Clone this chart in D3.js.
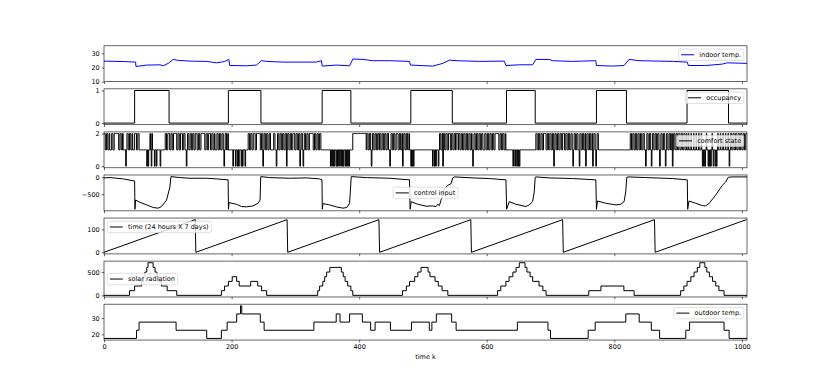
<!DOCTYPE html>
<html>
<head>
<meta charset="utf-8">
<script src="https://cdn.jsdelivr.net/npm/d3@7"></script>
<style>
  body { margin: 0; background: #fff; }
  text { font-family: "DejaVu Sans", sans-serif; }
</style>
</head>
<body>
<svg id="chart" width="830" height="382"></svg>
<script>
// ---- data (k = time step, 10 min each) ----
const indoorTemp = [[0,24.5],[30,24.2],[49.6,23.8],[50.1,20.7],[66.8,21.7],[87.6,21.9],[92.9,21.2],[100.7,22.9],[108.5,25.7],[116.3,25.0],[134.6,24.5],[160.7,24.3],[176.3,23.3],[184.2,23.8],[189.4,24.3],[195.6,25.7],[197.2,21.4],[223.3,21.2],[238.9,21.7],[246.8,24.8],[254.6,24.3],[280.7,23.8],[332.8,23.8],[340.7,24.8],[342.2,21.0],[364.1,21.7],[385,21.2],[390.2,26.0],[405.9,25.7],[421.5,24.8],[447.6,24.8],[478.9,24.3],[480.5,21.7],[505,21.2],[515.4,21.0],[531.1,22.9],[541.5,25.2],[551.9,24.8],[588.4,24.3],[627.5,24.5],[630.1,21.4],[651,21.9],[671.9,21.9],[677.1,25.7],[698,25.7],[703.2,24.8],[734.5,24.3],[771,24.8],[772,21.4],[797,21.0],[815.3,21.4],[823.1,25.7],[838.8,24.8],[891,24.3],[914.4,23.8],[916,21.4],[943.1,21.4],[969.2,22.4],[977,23.3],[1008,22.9]];

const occupancy = [[0,0],[48,1],[102,0],[195,1],[246,0],[342,1],[387,0],[481,1],[546,0],[631,1],[676,0],[772,1],[819,0],[914,1],[979,0],[1008,0]];

// comfort state, one digit per step, one string per day
const comfortDays = [
  ["221122112","111","2211222","2222","11221121","111","0","12211221121","11","22211221","11111111111","01011210211101101111101111","111","221122211221122","222","112211222112211","0","12211221122112"],
  ["2211221122","2222","1122112221122112","111","22112211221","0","12211211","11111","0","111","0","11","0","1","0","111","0","1","0","111","0","1111","221122112221122","2222","1122","0","1221122112211","111","2211","0","122112211221122","0","1"],
  ["2211221122211221122","0","1221","0","12211221122","2222","11221122112211","1111111111111","0101010110101011010101101010101","1111","222222222222222222222","12211221","0","122112211221"],
  ["2211221122112211","0","1221122112221122112","0","12211221121","1","0","1","0","1","0","11111111111111111111111111111","0","11","0","1","0","111","0","122112","0","22112211222112211221","222","122112211221122112211"],
  ["21","0","122112211221122","111","221122112211221122","2222","11221122112","11111111111","0","11","0","11","0","1","0","1","0","1111111111111111111111111","2211221122112","222","112211221122","0","12211221122112"],
  ["221122112211221","0","122112211","0","221122112","0","1221122112","0","1221","0","122111","11111111111111111111111111111111111111111111111","221122112211221122112211","0","12211221","0","12211"],
  ["2211221","0","12211221","0","1221122112","0","1221122112211221122112","112111211121112111211121","01010121101010121011010121","1121112111211121","0","122112211221122112211221122"]
];

const controlInput = [[0,-19],[9.4,-10],[30.3,-48],[45.9,-106],[48,-106],[48.5,-945],[49.6,-673],[56.3,-740],[66.8,-817],[77.2,-894],[85,-913],[90.3,-865],[98.1,-673],[103.3,-288],[104.9,19],[119,-10],[134.6,-29],[160.7,-29],[176.3,-48],[194.6,-77],[195.1,-945],[196.1,-750],[207.6,-798],[215.5,-865],[223.3,-875],[233.7,-846],[241.5,-769],[244.7,-673],[245.7,19],[259.8,-10],[291.1,-29],[317.2,-19],[338,-48],[341.7,-77],[342.2,-945],[343.3,-779],[353.7,-817],[364.1,-875],[374.6,-913],[380.8,-894],[385,-769],[387.6,19],[411.1,-10],[447.6,-29],[478.9,-77],[479.9,-945],[481.5,-721],[491.9,-798],[505,-856],[515.4,-846],[520.6,-865],[523.2,-798],[525.8,-837],[528.4,-673],[533.6,-337],[538.8,-240],[544,-192],[546.7,-19],[549.3,10],[578,-19],[604,-38],[630.1,-77],[631.2,-945],[635.3,-721],[645.8,-798],[661.4,-865],[666.6,-817],[671.9,-721],[674.5,-433],[676,0],[677.1,10],[698,-19],[734.5,-38],[771,-77],[772,-945],[773.6,-702],[786.6,-769],[802.3,-817],[810.1,-798],[815.3,-721],[817.9,-433],[819.5,0],[823.1,10],[849.2,-10],[891,-38],[914.4,-77],[915,-945],[917,-702],[927.5,-769],[937.9,-837],[943.1,-846],[948.3,-779],[958.8,-529],[969.2,-240],[974.4,-144],[978.6,0],[984.9,10],[1008,10]];

const timeOfDay = [[0,0],[143,143],[144,0],[287,143],[288,0],[431,143],[432,0],[575,143],[576,0],[719,143],[720,0],[863,143],[864,0],[1007,143]];

const solar = [[0,0],[40,100],[48,200],[59,300],[62,400],[64,500],[67,600],[69,700],[77,600],[80,500],[83,400],[86,300],[90,200],[99,100],[114,0],
  [184,100],[189,200],[195,300],[201,400],[208,300],[212,200],[230,300],[241,200],[247,100],[255,0],
  [335,100],[338,200],[343,300],[346,400],[349,500],[354,600],[372,500],[375,400],[378,300],[382,200],[387,100],[390,0],
  [468,100],[474,200],[479,300],[487,400],[492,500],[497,600],[508,500],[511,400],[519,300],[524,200],[530,100],[539,0],
  [617,100],[622,200],[630,300],[635,400],[641,500],[646,600],[651,700],[660,600],[663,500],[668,400],[672,300],[682,200],[688,100],[693,0],
  [760,100],[779,200],[815,100],[831,0],
  [904,100],[909,200],[914,300],[920,400],[925,500],[930,600],[934,700],[942,600],[945,500],[949,400],[954,300],[959,200],[964,100],[972,0],[1008,0]];

const outdoorTemp = [[0,17.5],[51,22.5],[55,27.5],[113,22.5],[161,17.5],[184,22.5],[193,27.5],[208,32.5],[214,37.5],[216,32.5],[245,27.5],[251,22.5],[329,27.5],[364,32.5],[370,27.5],[385,32.5],[405,27.5],[418,22.5],[425,27.5],[449,22.5],[482,27.5],[510,22.5],[514,27.5],[521,32.5],[545,27.5],[552,22.5],[648,27.5],[696,22.5],[700,17.5],[759,22.5],[770,27.5],[818,32.5],[839,27.5],[858,22.5],[871,17.5],[912,22.5],[918,27.5],[972,22.5],[980,17.5],[1008,17.5]];

const labels = ['indoor temp.', 'occupancy', 'comfort state', 'control input', 'time (24 hours X 7 days)', 'solar radiation', 'outdoor temp.'];
const yTicks = [[10,20,30],[0,1],[0,2],[0,-500],[0,100],[0,500],[20,30]];
const xTicks = [0,200,400,600,800,1000];

// ---- layout ----
const $svg = d3.select('#chart');
const MARGIN = { left: 104, right: 747, top: 45.8 };
const AX_W = MARGIN.right - MARGIN.left;
const AX_H = 35.88, AX_GAP = 7.18;
const FS = 6.5;

const comfort = comfortDays.map(d => d.join('')).join('').split('').map((c, i) => [i, +c]);
comfort.push([1008, comfort[comfort.length - 1][1]]);

const panels = [
  { data: indoorTemp, color: '#0000ff', curve: d3.curveLinear, loc: 'upper right', domain: [10, 35.3] },
  { data: occupancy, color: '#000', curve: d3.curveStepAfter, loc: 'upper right' },
  { data: comfort, color: '#000', curve: d3.curveStepAfter, loc: 'upper right' },
  { data: controlInput, color: '#000', curve: d3.curveLinear, loc: 'center' },
  { data: timeOfDay, color: '#000', curve: d3.curveLinear, loc: 'upper left' },
  { data: solar, color: '#000', curve: d3.curveStepAfter, loc: 'center left' },
  { data: outdoorTemp, color: '#000', curve: d3.curveStepAfter, loc: 'upper right' }
];

const x = d3.scaleLinear().domain([0, 1008]).range([0, AX_W]);

function padded(ext) {
  const r = ext[1] - ext[0];
  return [ext[0] - 0.05 * r, ext[1] + 0.05 * r];
}

function legend(g, label, color, loc) {
  const pad = 0.5 * FS, bp = 0.4 * FS, hl = 2 * FS, tp = 0.8 * FS;
  const lg = g.append('g');
  const box = lg.append('rect');
  const txt = lg.append('text').attr('font-size', FS).text(label);
  const tw = txt.node().getComputedTextLength();
  const w = bp * 2 + hl + tp + tw, h = 11.4;
  let bx = AX_W - pad - w, by = pad;
  if (loc === 'upper left') bx = pad;
  if (loc === 'center') { bx = (AX_W - w) / 2; by = (AX_H - h) / 2; }
  if (loc === 'center left') { bx = pad; by = (AX_H - h) / 2; }
  box.attr('x', bx).attr('y', by).attr('width', w).attr('height', h)
    .attr('rx', 1.5).attr('fill', '#fff').attr('fill-opacity', 0.8)
    .attr('stroke', '#ccc').attr('stroke-width', 0.6);
  lg.append('line')
    .attr('x1', bx + bp).attr('x2', bx + bp + hl)
    .attr('y1', by + h / 2).attr('y2', by + h / 2)
    .attr('stroke', color).attr('stroke-width', 1);
  txt.attr('x', bx + bp + hl + tp).attr('y', by + h / 2 + 2.3);
}

panels.forEach((p, i) => {
  const g = $svg.append('g')
    .attr('transform', `translate(${MARGIN.left},${MARGIN.top + i * (AX_H + AX_GAP)})`);
  const dom = p.domain || padded(d3.extent(p.data, d => d[1]));
  const y = d3.scaleLinear().domain(dom).range([AX_H, 0]);

  g.append('clipPath').attr('id', 'clip' + i)
    .append('rect').attr('width', AX_W).attr('height', AX_H);

  const line = d3.line().x(d => x(d[0])).y(d => y(d[1])).curve(p.curve);
  g.append('path')
    .datum(p.data)
    .attr('clip-path', `url(#clip${i})`)
    .attr('fill', 'none')
    .attr('stroke', p.color)
    .attr('stroke-width', 1)
    .attr('d', line);

  // y axis
  g.append('g')
    .call(d3.axisLeft(y).tickValues(yTicks[i]).tickSize(2.3).tickPadding(2).tickFormat(d3.format('d')))
    .call(a => a.select('.domain').remove())
    .call(a => a.selectAll('text').attr('font-size', FS).attr('font-family', 'DejaVu Sans').attr('fill', '#000'))
    .call(a => a.selectAll('line').attr('stroke', '#000').attr('stroke-width', 0.6));

  // x axis (labels only on the last panel)
  g.append('g')
    .attr('transform', `translate(0,${AX_H})`)
    .call(d3.axisBottom(x).tickValues(xTicks).tickSize(2.3).tickPadding(2)
      .tickFormat(i === panels.length - 1 ? d3.format('d') : ''))
    .call(a => a.select('.domain').remove())
    .call(a => a.selectAll('text').attr('font-size', FS).attr('font-family', 'DejaVu Sans').attr('fill', '#000'))
    .call(a => a.selectAll('line').attr('stroke', '#000').attr('stroke-width', 0.6));

  // frame
  g.append('rect')
    .attr('width', AX_W).attr('height', AX_H)
    .attr('fill', 'none').attr('stroke', '#000').attr('stroke-width', 0.6);

  legend(g, labels[i], p.color, p.loc);
});

$svg.append('text')
  .attr('x', MARGIN.left + AX_W / 2)
  .attr('y', 359)
  .attr('text-anchor', 'middle')
  .attr('font-size', FS)
  .text('time k');
</script>
</body>
</html>
